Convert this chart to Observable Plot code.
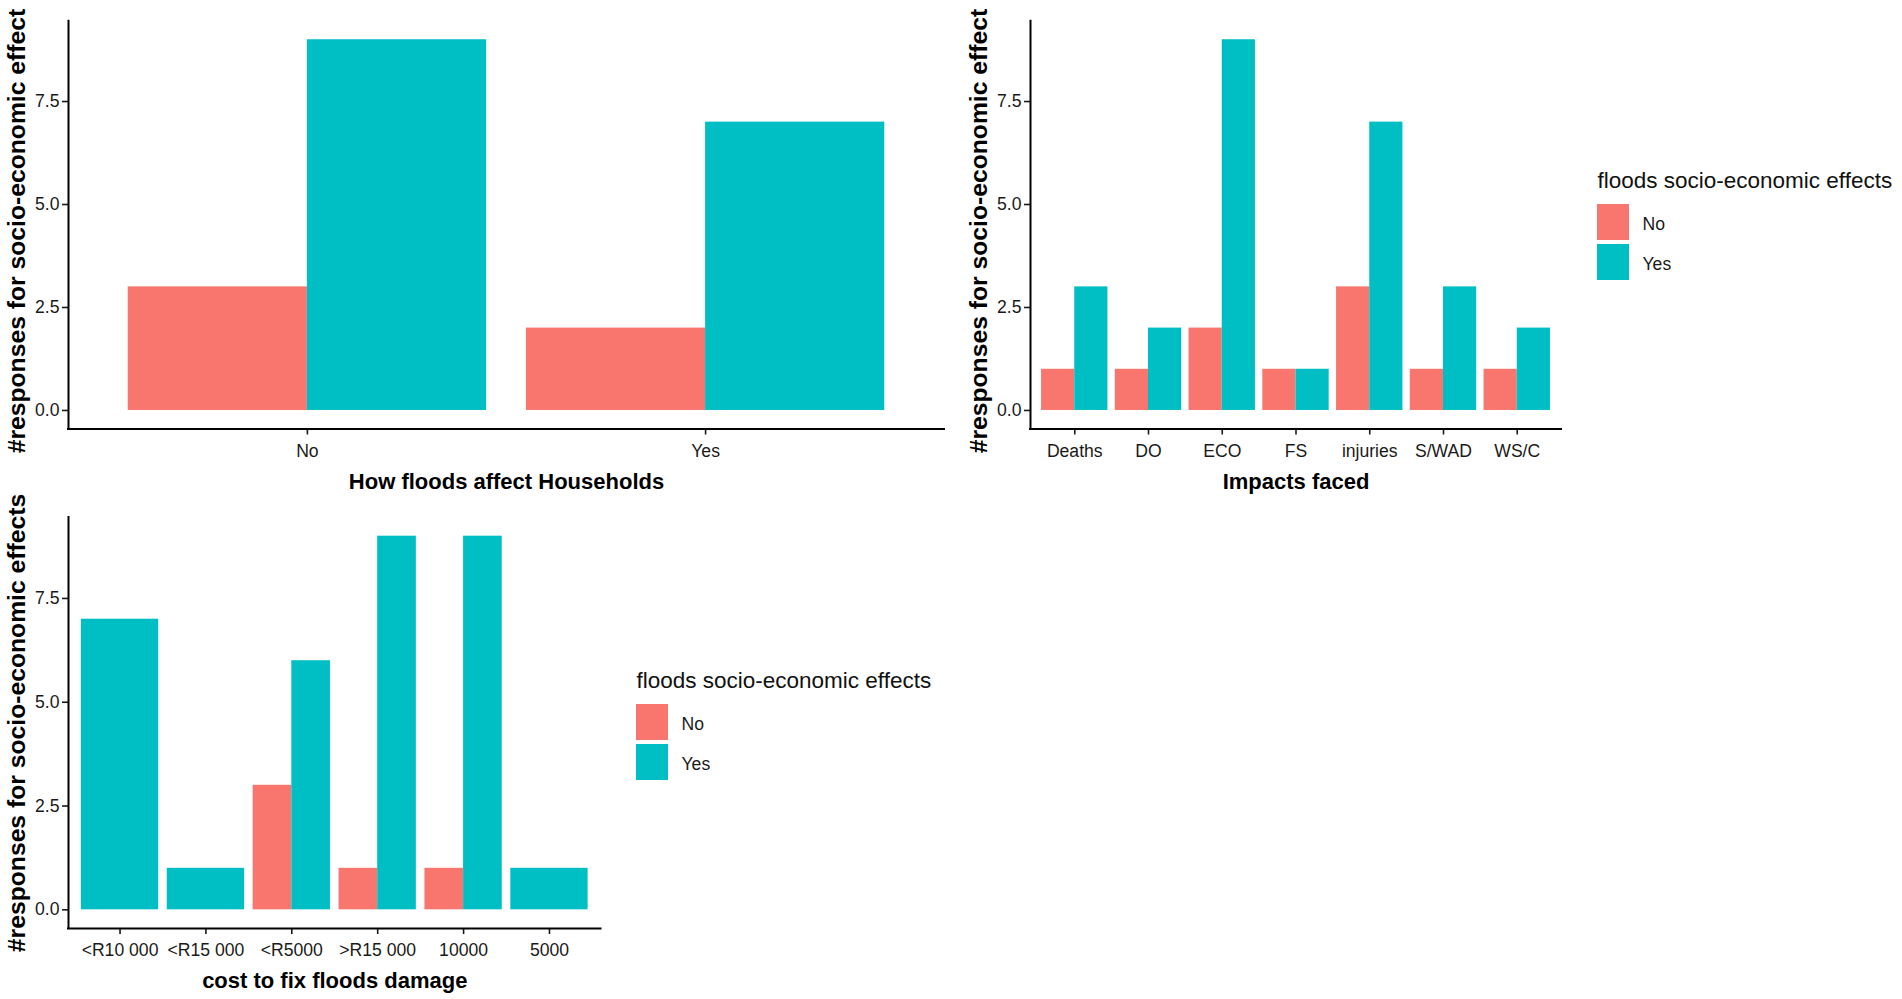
<!DOCTYPE html>
<html>
<head>
<meta charset="utf-8">
<script src="https://cdn.jsdelivr.net/npm/d3@7"></script>
<script src="https://cdn.jsdelivr.net/npm/@observablehq/plot@0.6"></script>
<style>
  html, body { margin: 0; padding: 0; background: #fff; }
  #page { position: relative; width: 1902px; height: 999px; overflow: hidden; background: #fff; }
  .box { position: absolute; }
  .box svg { max-width: none !important; }
</style>
</head>
<body>
<div id="page"></div>
<script>
// ---------------- data ----------------
const groups = ["No", "Yes"];
const groupColors = ["#F8766D", "#00BFC4"];
const yTicks = [0, 2.5, 5, 7.5];
const legendTitle = "floods socio-economic effects";

const hhCats = ["No", "Yes"];
const hhNo = [3, 2];
const hhYes = [9, 7];

const impCats = ["Deaths", "DO", "ECO", "FS", "injuries", "S/WAD", "WS/C"];
const impNo = [1, 1, 2, 1, 3, 1, 1];
const impYes = [3, 2, 9, 1, 7, 3, 2];

const costCats = ["<R10 000", "<R15 000", "<R5000", ">R15 000", "10000", "5000"];
const costNo = [null, null, 3, 1, 1, null];
const costYes = [7, 1, 6, 9, 9, 1];

// ---------------- helpers ----------------
const FONT = "'Liberation Sans', Arial, Helvetica, sans-serif";

function dodgeRows(cats, no, yes) {
  const rows = [];
  cats.forEach((c, i) => {
    const present = groups
      .map((g, j) => ({ group: g, value: (j === 0 ? no : yes)[i] }))
      .filter(d => d.value != null);
    present.forEach((d, k) => rows.push({ cat: c, pos: i + 1, group: d.group, value: d.value, k, n: present.length }));
  });
  return rows;
}

function panel({ cats, no, yes, xTitle, yTitle, yTitleDy, width, height, mL, mR, mT, mB }) {
  const rows = dodgeRows(cats, no, yes);
  const yMax = d3.max(rows, d => d.value);
  const yDomain = [-0.05 * yMax, yMax * 1.05];
  const xDomain = [0.4, cats.length + 0.6];
  const dodge = 0.9;
  return Plot.plot({
    width, height,
    marginLeft: mL, marginRight: mR, marginTop: mT, marginBottom: mB,
    style: { fontFamily: FONT, fontSize: "17.6px", color: "#1a1a1a", background: "transparent", overflow: "visible" },
    x: { domain: xDomain },
    y: { domain: yDomain },
    color: { domain: groups, range: groupColors },
    marks: [
      Plot.rectY(rows, {
        x1: d => d.pos - dodge / 2 + d.k * dodge / d.n,
        x2: d => d.pos - dodge / 2 + (d.k + 1) * dodge / d.n,
        y1: 0,
        y2: "value",
        fill: "group"
      }),
      Plot.axisX({
        ticks: d3.range(1, cats.length + 1),
        tickFormat: i => cats[i - 1],
        tickSize: 6, tickPadding: 9, label: null, strokeWidth: 1.6
      }),
      Plot.axisY({
        ticks: yTicks,
        tickFormat: d3.format(".1f"),
        tickSize: 6, tickPadding: 3, label: null, strokeWidth: 1.6
      }),
      Plot.ruleX([xDomain[0]], { stroke: "black", strokeWidth: 2, strokeLinecap: "square" }),
      Plot.ruleY([yDomain[0]], { stroke: "black", strokeWidth: 2, strokeLinecap: "square" }),
      Plot.text([xTitle], {
        text: d => d, frameAnchor: "bottom", dy: 59.5, lineAnchor: "bottom", textAnchor: "middle",
        fontWeight: "bold", fontSize: 22, fill: "black"
      }),
      Plot.text([yTitle], {
        text: d => d, frameAnchor: "left", dx: -51, dy: yTitleDy, rotate: -90, textAnchor: "middle",
        fontWeight: "bold", fontSize: 24.7, fill: "black"
      })
    ]
  });
}

function legend() {
  return Plot.plot({
    width: 330, height: 125,
    marginTop: 40, marginBottom: 0, marginLeft: 0, marginRight: 298,
    style: { fontFamily: FONT, fontSize: "17.6px", color: "#1a1a1a", background: "transparent", overflow: "visible" },
    y: { domain: groups, padding: 0.1, axis: null },
    color: { domain: groups, range: groupColors },
    marks: [
      Plot.cell(groups, { y: d => d, fill: d => d }),
      Plot.text(groups, { y: d => d, text: d => d, frameAnchor: "right", dx: 13, dy: 2, textAnchor: "start" }),
      Plot.text([legendTitle], {
        text: d => d, frameAnchor: "top-left", dy: -12, lineAnchor: "bottom",
        textAnchor: "start", fontSize: 22.5, fill: "#111"
      })
    ]
  });
}

function place(node, left, top) {
  const div = document.createElement("div");
  div.className = "box";
  div.style.left = left + "px";
  div.style.top = top + "px";
  div.appendChild(node);
  document.getElementById("page").appendChild(div);
}

// ---------------- panels ----------------
place(panel({
  cats: hhCats, no: hhNo, yes: hhYes,
  xTitle: "How floods affect Households",
  yTitle: "#responses for socio-economic effect", yTitleDy: 6,
  width: 951, height: 499, mL: 68, mR: 7, mT: 20.7, mB: 70.5
}), 0, 0);

place(panel({
  cats: impCats, no: impNo, yes: impYes,
  xTitle: "Impacts faced",
  yTitle: "#responses for socio-economic effect", yTitleDy: 6,
  width: 951, height: 499, mL: 79, mR: 341, mT: 20.7, mB: 70.5
}), 951, 0);

place(panel({
  cats: costCats, no: costNo, yes: costYes,
  xTitle: "cost to fix floods damage",
  yTitle: "#responses for socio-economic effects", yTitleDy: 0,
  width: 951, height: 519, mL: 68, mR: 350.5, mT: 37, mB: 71
}), 0, 480);

place(legend(), 1597, 159.25);
place(legend(), 636, 658.6);
</script>
</body>
</html>
